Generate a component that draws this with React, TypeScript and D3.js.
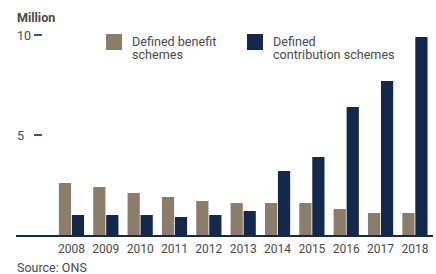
import * as d3 from "d3";

const years = ["2008", "2009", "2010", "2011", "2012", "2013", "2014", "2015", "2016", "2017", "2018"];
const definedBenefit = [2.6, 2.4, 2.1, 1.9, 1.7, 1.6, 1.6, 1.6, 1.3, 1.1, 1.1];
const definedContribution = [1.0, 1.0, 1.0, 0.9, 1.0, 1.2, 3.2, 3.9, 6.4, 7.7, 9.9];
const yTicks = [5, 10];
const seriesKeys = ["db", "dc"];
const seriesLabels = [["Defined benefit", "schemes"], ["Defined", "contribution schemes"]];

const width = 436;
const height = 274;
const beige = "#8a7e6b";
const navy = "#13284d";
const grey = "#4a4a4a";
const font = "Roboto, 'Noto Sans', sans-serif";

export default function App() {
  const x = d3.scaleBand(years, [54.3, 432.1]).padding(0);
  const x1 = d3.scaleBand(seriesKeys, [-12.6, 12.6]).paddingInner(0.06);
  const y = d3.scaleLinear([0, 10], [235, 35]);
  const colors = [beige, navy];
  const series = [definedBenefit, definedContribution];
  const legendX = [106, 247];

  return (
    <svg
      width={width}
      height={height}
      style={{ position: "fixed", left: 0, top: 0, display: "block" }}
      fontFamily={font}
    >
      <rect width={width} height={height} fill="#fff" />
      <text x={17} y={22} fontSize={12.5} fontWeight={700} fill={grey}>
        Million
      </text>
      {yTicks.map((t) => (
        <g key={t}>
          <text x={17} y={y(t) + 4.5} fontSize={12.5} fill={grey}>
            {t}
          </text>
          <line x1={34} x2={42} y1={y(t)} y2={y(t)} stroke={navy} strokeWidth={1.6} />
        </g>
      ))}
      {seriesLabels.map((lines, i) => (
        <g key={i}>
          <rect x={legendX[i]} y={34} width={16} height={16} fill={colors[i]} />
          {lines.map((l, j) => (
            <text key={j} x={legendX[i] + 26} y={45.5 + j * 13} fontSize={12.6} fill={grey}>
              {l}
            </text>
          ))}
        </g>
      ))}
      {years.map((yr, i) => {
        const cx = x(yr)! + x.bandwidth() / 2;
        return (
          <g key={yr}>
            {series.map((s, k) => (
              <rect
                key={k}
                x={cx + x1(seriesKeys[k])!}
                y={y(s[i])}
                width={x1.bandwidth()}
                height={y(0) - y(s[i])}
                fill={colors[k]}
              />
            ))}
            <text x={cx} y={252.5} fontSize={12} textAnchor="middle" fill={grey}>
              {yr}
            </text>
          </g>
        );
      })}
      <line x1={16} x2={433} y1={y(0) + 1} y2={y(0) + 1} stroke={navy} strokeWidth={2} />
      <text x={17} y={271.5} fontSize={12.5} fill={grey}>
        Source: ONS
      </text>
    </svg>
  );
}
